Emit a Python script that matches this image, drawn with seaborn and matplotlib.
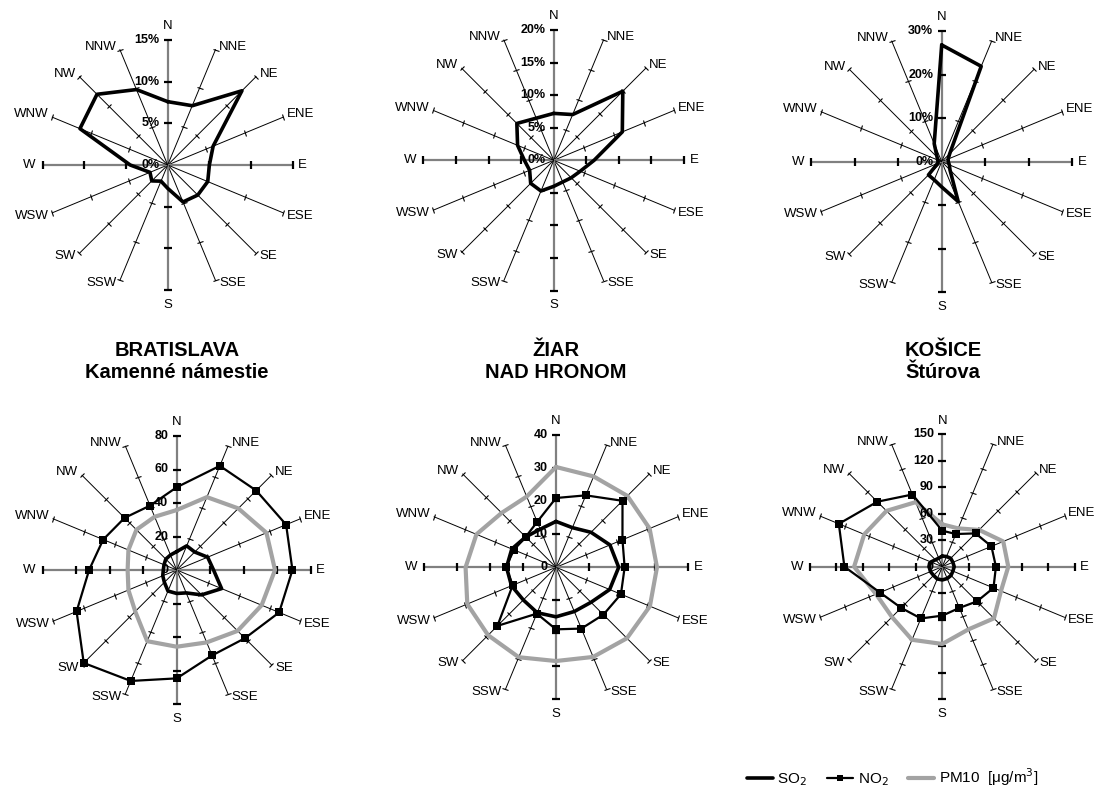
import numpy as np
import matplotlib
matplotlib.use("Agg")
import matplotlib.pyplot as plt
from matplotlib.markers import MarkerStyle
from matplotlib.transforms import Affine2D
from matplotlib.lines import Line2D
import seaborn as sns

sns.set_style("white")
plt.rcParams["font.family"] = ["Liberation Sans", "DejaVu Sans"]
plt.rcParams["text.color"] = "black"

# wind directions, clockwise from north
directions = ["N", "NNE", "NE", "ENE", "E", "ESE", "SE", "SSE",
              "S", "SSW", "SW", "WSW", "W", "WNW", "NW", "NNW"]

# wind direction frequency [%]
wind_bratislava = [7.6, 7.7, 12.6, 5.9, 5.0, 5.2, 5.1, 4.8, 2.8, 2.1, 2.7, 2.3, 4.5, 11.4, 12.0, 9.8]
wind_ziar = [7.2, 7.6, 15.0, 11.4, 6.2, 4.4, 3.8, 3.6, 4.0, 5.1, 5.0, 4.0, 4.5, 6.0, 8.0, 7.0]
wind_kosice = [26.8, 23.7, 2.6, 1.6, 1.5, 1.9, 2.7, 9.9, 5.8, 4.5, 4.3, 1.0, 0.8, 1.0, 1.5, 4.5]

# mean concentrations by wind direction [ug/m3]
so2_bratislava = [11.0, 15.6, 15.2, 20.0, 22.0, 29.0, 21.0, 14.8, 14.0, 13.6, 10.4, 9.0, 8.0, 8.2, 9.2, 9.7]
no2_bratislava = [49.4, 67.3, 67.1, 70.7, 69.1, 66.2, 57.6, 55.2, 64.7, 71.7, 78.5, 64.7, 52.3, 47.5, 44.0, 41.6]
pm10_bratislava = [35.8, 47.1, 52.0, 58.0, 58.7, 54.9, 51.4, 46.8, 45.8, 46.0, 35.0, 31.2, 29.3, 31.2, 34.0, 34.4]

so2_ziar = [13.9, 13.0, 15.0, 17.7, 19.0, 17.6, 15.0, 14.5, 15.0, 14.9, 14.0, 14.6, 15.0, 14.5, 13.0, 12.5]
no2_ziar = [21.0, 23.6, 28.5, 21.8, 20.8, 21.3, 20.3, 20.1, 18.8, 15.2, 25.1, 14.2, 15.2, 13.8, 13.0, 14.9]
pm10_ziar = [30.4, 29.8, 30.6, 30.7, 30.6, 30.8, 30.4, 29.4, 28.4, 29.5, 29.1, 29.1, 27.4, 26.1, 23.3, 23.2]

so2_kosice = [12.0, 12.5, 13.5, 13.0, 13.5, 13.0, 14.0, 14.5, 15.0, 15.0, 14.0, 14.5, 15.0, 14.0, 11.0, 10.5]
no2_kosice = [40.8, 40.1, 53.4, 60.3, 60.8, 62.8, 55.6, 50.6, 55.5, 63.5, 66.0, 76.5, 111.0, 127.0, 104.2, 88.6]
pm10_kosice = [48.0, 47.0, 59.0, 74.8, 74.8, 72.0, 82.8, 77.0, 87.6, 89.7, 80.7, 81.3, 100.0, 95.8, 89.5, 79.2]

station_titles = ["BRATISLAVA\nKamenné námestie", "ŽIAR\nNAD HRONOM", "KOŠICE\nŠtúrova"]

W_PX, H_PX = 1103, 792
fig = plt.figure(figsize=(W_PX / 100, H_PX / 100), dpi=100)

theta = np.deg2rad(np.arange(16) * 22.5)
theta_closed = np.append(theta, 2 * np.pi)

AXIS_GREY = "#808080"
PM_GREY = "#a3a3a3"


def make_radar(cx, cy, radius, rmax, step, fmt):
    ax = fig.add_axes([(cx - radius) / W_PX, (H_PX - cy - radius) / H_PX,
                       2 * radius / W_PX, 2 * radius / H_PX], projection="polar")
    ax.set_theta_zero_location("N")
    ax.set_theta_direction(-1)
    ax.set_ylim(0, rmax)
    ax.grid(False)
    ax.set_xticks([])
    ax.set_yticks([])
    ax.spines["polar"].set_visible(False)
    ax.patch.set_alpha(0)

    tick_vals = np.arange(step, rmax + step / 2, step)
    for i, (t, name) in enumerate(zip(theta, directions)):
        main = i % 4 == 0
        ax.plot([t, t], [0, rmax], color=AXIS_GREY if main else "black",
                lw=1.6 if main else 0.7, clip_on=False, zorder=1)
        ms = MarkerStyle("_", transform=Affine2D().rotate_deg(-i * 22.5))
        ax.plot(np.full(len(tick_vals), t), tick_vals, ls="none", marker=ms,
                ms=6.0 if main else 5.0, mew=1.6 if main else 0.8,
                color="black", clip_on=False, zorder=2)

        deg = i * 22.5
        if name == "N":
            off, ha, va = (0, 10), "center", "center"
        elif name == "S":
            off, ha, va = (0, -10.5), "center", "center"
        elif name == "E":
            off, ha, va = (4, 0), "left", "center"
        elif name == "W":
            off, ha, va = (-5, 0), "right", "center"
        elif deg < 180:
            off, ha, va = (2.5, 2 if deg < 90 else -2), "left", "center"
        else:
            off, ha, va = (-2.5, -2 if deg < 270 else 2), "right", "center"
        ax.annotate(name, xy=(t, rmax), xytext=off, textcoords="offset points",
                    ha=ha, va=va, fontsize=9.5, color="black", annotation_clip=False)

    for v in np.append(0, tick_vals):
        ax.annotate(fmt.format(int(v)), xy=(0, v), xytext=(-6, 0),
                    textcoords="offset points", ha="right", va="center",
                    fontsize=9, fontweight="bold", color="black",
                    annotation_clip=False, zorder=5)
    return ax


def closed(values):
    return np.append(values, values[0])


# frequency roses
wind_sets = [
    (wind_bratislava, 167.7, 165.0, 125.0, 15, 5),
    (wind_ziar, 553.7, 160.3, 130.3, 20, 5),
    (wind_kosice, 941.7, 161.7, 130.7, 30, 10),
]
for vals, cx, cy, rad, rmax, step in wind_sets:
    ax = make_radar(cx, cy, rad, rmax, step, "{}%")
    sns.lineplot(x=theta_closed, y=closed(vals), ax=ax, sort=False, estimator=None,
                 color="black", lw=2.6, zorder=4, clip_on=False)
    ax.set_xlabel("")
    ax.set_ylabel("")

# pollution roses
poll_sets = [
    (so2_bratislava, no2_bratislava, pm10_bratislava, 176.7, 570.0, 134.0, 80, 20),
    (so2_ziar, no2_ziar, pm10_ziar, 556.0, 567.3, 132.0, 40, 10),
    (so2_kosice, no2_kosice, pm10_kosice, 942.3, 566.7, 132.3, 150, 30),
]
for so2, no2, pm10, cx, cy, rad, rmax, step in poll_sets:
    ax = make_radar(cx, cy, rad, rmax, step, "{}")
    sns.lineplot(x=theta_closed, y=closed(pm10), ax=ax, sort=False, estimator=None,
                 color=PM_GREY, lw=3.0, zorder=3, clip_on=False)
    sns.lineplot(x=theta_closed, y=closed(no2), ax=ax, sort=False, estimator=None,
                 color="black", lw=1.6, marker="s", markersize=5.5, markeredgewidth=0,
                 zorder=4, clip_on=False)
    sns.lineplot(x=theta_closed, y=closed(so2), ax=ax, sort=False, estimator=None,
                 color="black", lw=2.6, zorder=4, clip_on=False)
    ax.set_xlabel("")
    ax.set_ylabel("")

# station names between the rows
for title, cx in zip(station_titles, [177, 556, 943]):
    fig.text(cx / W_PX, 1 - 361 / H_PX, title, ha="center", va="center",
             fontsize=14.5, fontweight="bold", color="black", linespacing=1.2)

handles = [
    Line2D([], [], color="black", lw=2.6),
    Line2D([], [], color="black", lw=1.6, marker="s", markersize=5, markeredgewidth=0),
    Line2D([], [], color=PM_GREY, lw=3.0),
]
labels = ["SO$_2$", "NO$_2$", "PM10  [μg/m$^3$]"]
fig.legend(handles, labels, loc="center left",
           bbox_to_anchor=(733 / W_PX, 1 - 777 / H_PX), ncol=3, frameon=False,
           fontsize=11, handlelength=1.7, handletextpad=0.3, columnspacing=1.3,
           labelcolor="black")

fig.savefig("out.png", dpi=100)
